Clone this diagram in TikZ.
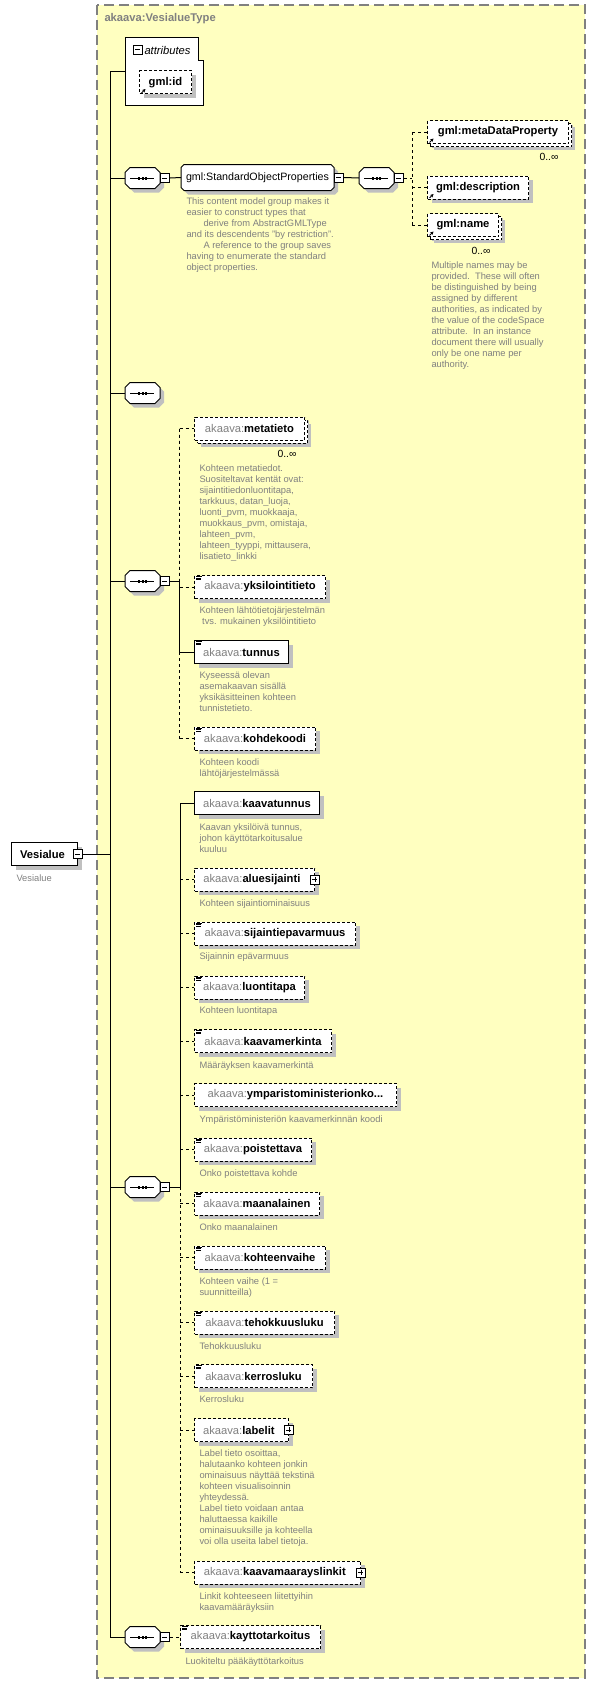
\documentclass[tikz,border=0pt]{standalone}
\usepackage{fontspec}
\setmainfont{Liberation Sans}
\usetikzlibrary{calc,shadows,arrows.meta}

\definecolor{typeYellow}{RGB}{255,255,192}
\definecolor{frameGray}{RGB}{128,128,128}
\definecolor{descGray}{RGB}{128,128,128}
\definecolor{shadowGray}{RGB}{192,192,192}

\newcommand{\ak}[1]{{\color{descGray}akaava:}\textbf{#1}}
\newcommand{\minusmark}[1]{\draw (#1.west) ++(2,0) -- ++(5,0);}
\newcommand{\plusmark}[1]{\draw (#1.west) ++(2,0) -- ++(5,0); \draw (#1.north) ++(0,2) -- ++(0,5);}
% octagon round a named node: corner cut, x offset, y offset
\newcommand{\octo}[4]{($(#1.north west)+(#2+#3,#4)$) -- ($(#1.north east)+(-#2+#3,#4)$) -- ($(#1.north east)+(#3,#2+#4)$) -- ($(#1.south east)+(#3,-#2+#4)$) -- ($(#1.south east)+(-#2+#3,#4)$) -- ($(#1.south west)+(#2+#3,#4)$) -- ($(#1.south west)+(#3,-#2+#4)$) -- ($(#1.north west)+(#3,#2+#4)$) -- cycle}
\newcommand{\seqshape}[1]{\fill [shadowGray] \octo{#1}{5}{4}{4};
  \draw [fill=white] \octo{#1}{5}{0}{0};
  \draw (#1.west) ++(5,0) -- ++(24,0);
  \foreach \d in {-3.5,0,3.5} \fill (#1.center) ++(\d,0) ++(-1,-1.5) rectangle ++(2,3);}
\newcommand{\simplemark}[1]{\draw [line width=0.6pt] (#1.north west) ++(2,1.5) -- ++(6,0) ++(-6,1.6) -- ++(5,0) ++(-5,1.6) -- ++(5,0);}
\newcommand{\refmark}[1]{\draw [-{Stealth[length=2.5pt,width=2.5pt]},line width=0.6pt] (#1.south west) ++(2.5,-1.5) -- ++(4,-4);}

\tikzset{
  lbl/.style={font=\fontsize{8.4}{10}\selectfont},
  desc/.style={anchor=north west,inner sep=0pt,align=left,text=descGray,font=\fontsize{7}{8.25}\selectfont},
  mult/.style={anchor=center,inner sep=0pt,font=\fontsize{7.8}{9}\selectfont},
  boxw/.style={minimum width=#1*0.75pt},
  boxshadow/.style={drop shadow={shadow xshift=3pt,shadow yshift=-3pt,opacity=1,fill=shadowGray}},
  elem/.style={draw,fill=white,boxshadow,lbl,minimum height=17.25pt,inner xsep=4pt,inner ysep=0pt,anchor=west},
  optelem/.style={elem,dash pattern=on 2.25pt off 1.5pt},
  multi/.style={drop shadow={shadow xshift=5pt,shadow yshift=-5pt,opacity=1,fill=shadowGray},
    copy shadow={shadow xshift=2.25pt,shadow yshift=-2.25pt,draw=black,fill=white}},
  seqbub/.style={rectangle,minimum width=25.5pt,minimum height=15pt,inner sep=0pt,anchor=west},
  grp/.style={rectangle,minimum width=114pt,minimum height=18.75pt,inner sep=0pt,anchor=west},
  tog/.style={draw,fill=white,minimum size=6.75pt,inner sep=0pt,anchor=west},
  optline/.style={dash pattern=on 2.25pt off 2.25pt}
}

\begin{document}
\begin{tikzpicture}[x=0.75pt,y=0.75pt,yscale=-1,xscale=1,line width=0.75pt]
\useasboundingbox (0,0) rectangle (596,1684);

%Shape: Rectangle [type frame]
\draw [color=frameGray,fill=typeYellow,line width=1pt,dash pattern=on 7.5pt off 3.75pt] (97,5) rectangle (585,1678);
% Text Node
\node [lbl,anchor=west,inner sep=0pt,text=descGray] (typename) at (104,19) {\textbf{akaava:VesialueType}};

%Shape: attributes
\draw [fill=white] (125,38) -- (198,38) -- (198,61) -- (203,61) -- (203,105) -- (125,105) -- cycle;
\coordinate (attr) at (125,72);
\node [tog] (attrm) at (133,50) {};
\minusmark{attrm}
\node [anchor=west,inner sep=0pt,font=\fontsize{8.4}{10}\selectfont\itshape] (attrtitle) at (144,50) {attributes};
\node [optelem,boxw=52] (gmlid) at (139,82.5) {\textbf{gml:id}};
\refmark{gmlid}

%Shape: root element
\node [elem,boxw=66] (vesialue) at (11,854) {\textbf{Vesialue}\hspace*{3pt}};
\node [tog,anchor=center] (vesialuem) at (vesialue.east) {};
\minusmark{vesialuem}
% Text Node
\node [desc] at (16,874.5) {Vesialue};

%Straight Lines: trunk
\coordinate (trunk) at (110,854);
\draw (vesialuem.east) -- (vesialuem.east -| trunk);
\draw (attr -| trunk) -- (attr);

%Shape: sequence 1
\node [seqbub] (seqa) at (125,178) {};
\seqshape{seqa}
\node [tog] (seqam) at (seqa.east) {};
\minusmark{seqam}
\draw (seqa.west -| trunk) -- (seqa.west);
\node [grp] (sop) at (181,177.5) {};
\fill [shadowGray] \octo{sop}{3}{4}{4};
\draw [fill=white] \octo{sop}{3}{0}{0};
\node [inner sep=0pt,font=\fontsize{8}{10}\selectfont] (soptext) at (sop.center) {gml:StandardObjectProperties};
\draw (seqam.east) -- (sop.west);
\node [tog] (sopm) at (sop.east) {};
\minusmark{sopm}
\node [seqbub] (gseq) at (359,178) {};
\seqshape{gseq}
\draw (sopm.east) -- (gseq.west);
\node [tog] (gseqm) at (gseq.east) {};
\minusmark{gseqm}
\coordinate (gbar) at (412,178);
\draw [optline] (gseqm.east) -- (gbar);
\node [optelem,multi,boxw=141] (mdprop) at (427,132) {\textbf{gml:metaDataProperty}};
\node [optelem,boxw=101] (gdesc) at (427,187.5) {\textbf{gml:description}};
\node [optelem,multi,boxw=71] (gname) at (427,225) {\textbf{gml:name}};
\refmark{mdprop}
\refmark{gdesc}
\refmark{gname}
\draw [optline] (mdprop.west -| gbar) -- (gname.west -| gbar);
\foreach \n in {mdprop,gdesc,gname} \draw [optline] (\n.west -| gbar) -- (\n.west);
% Text Node
\node [mult] at (549,157) {0..∞};
\node [mult] at (481,251) {0..∞};
% Text Node
\node [desc] at (186,197.5) {This content model group makes it\\easier to construct types that\\\hspace*{12.75pt}derive from AbstractGMLType\\and its descendents "by restriction".\\\hspace*{12.75pt}A reference to the group saves\\having to enumerate the standard\\object properties.};
\node [desc] at (431,261.5) {Multiple names may be\\provided.\ \ These will often\\be distinguished by being\\assigned by different\\authorities, as indicated by\\the value of the codeSpace\\attribute.\ \ In an instance\\document there will usually\\only be one name per\\authority.};

%Shape: sequence 2
\node [seqbub] (seqb) at (125,393) {};
\seqshape{seqb}
\draw (seqb.west -| trunk) -- (seqb.west);

%Shape: sequence 3
\node [seqbub] (seqc) at (125,581) {};
\seqshape{seqc}
\node [tog] (seqcm) at (seqc.east) {};
\minusmark{seqcm}
\draw (seqc.west -| trunk) -- (seqc.west);
\coordinate (cbar) at (179.5,581);
\draw (seqcm.east) -- (cbar);
\node [optelem,multi,boxw=110] (metatieto) at (194,428.5) {\ak{metatieto}};
\node [optelem,boxw=131] (yksilointitieto) at (194,587) {\ak{yksilointitieto}};
\node [elem,boxw=94] (tunnus) at (194,652) {\ak{tunnus}};
\node [optelem,boxw=121] (kohdekoodi) at (194,738.5) {\ak{kohdekoodi}};
\foreach \n in {yksilointitieto,tunnus,kohdekoodi} \simplemark{\n}
\draw [optline] (metatieto.west -| cbar) -- (cbar);
\draw (cbar) -- (tunnus.west -| cbar);
\draw [optline] (tunnus.west -| cbar) -- (kohdekoodi.west -| cbar);
\foreach \n in {metatieto,yksilointitieto,kohdekoodi} \draw [optline] (\n.west -| cbar) -- (\n.west);
\draw (tunnus.west -| cbar) -- (tunnus.west);
% Text Node
\node [mult] at (287,454) {0..∞};
\node [desc] at (199,464.5) {Kohteen metatiedot.\\Suositeltavat kentät ovat:\\sijaintitiedonluontitapa,\\tarkkuus, datan\_luoja,\\luonti\_pvm, muokkaaja,\\muokkaus\_pvm, omistaja,\\lahteen\_pvm,\\lahteen\_tyyppi, mittausera,\\lisatieto\_linkki};
\node [desc] at (199,606.5) {Kohteen lähtötietojärjestelmän\\\hspace*{2pt}tvs. mukainen yksilöintitieto};
\node [desc] at (199,671.5) {Kyseessä olevan\\asemakaavan sisällä\\yksikäsitteinen kohteen\\tunnistetieto.};
\node [desc] at (199,758.5) {Kohteen koodi\\lähtöjärjestelmässä};

%Shape: sequence 4
\node [seqbub] (seqd) at (125,1187) {};
\seqshape{seqd}
\node [tog] (seqdm) at (seqd.east) {};
\minusmark{seqdm}
\draw (seqd.west -| trunk) -- (seqd.west);
\coordinate (dbar) at (180,1187);
\draw (seqdm.east) -- (dbar);
\node [elem,boxw=125] (kaavatunnus) at (194,803) {\ak{kaavatunnus}};
\node [optelem,boxw=120] (aluesijainti) at (194,879.5) {\ak{aluesijainti}\hspace*{4pt}};
\node [optelem,boxw=161] (sijaintiepavarmuus) at (194,933.5) {\ak{sijaintiepavarmuus}};
\node [optelem,boxw=110] (luontitapa) at (194,987.5) {\ak{luontitapa}};
\node [optelem,boxw=137] (kaavamerkinta) at (194,1041) {\ak{kaavamerkinta}};
\node [optelem,boxw=202] (ymparisto) at (194,1095) {\ak{ymparistoministerionko...}};
\node [optelem,boxw=117] (poistettava) at (194,1149.5) {\ak{poistettava}};
\node [optelem,boxw=125] (maanalainen) at (194,1203.5) {\ak{maanalainen}};
\node [optelem,boxw=131] (kohteenvaihe) at (194,1257.5) {\ak{kohteenvaihe}};
\node [optelem,boxw=140] (tehokkuusluku) at (194,1322.5) {\ak{tehokkuusluku}};
\node [optelem,boxw=118] (kerrosluku) at (194,1376) {\ak{kerrosluku}};
\node [optelem,boxw=94] (labelit) at (194,1430) {\ak{labelit}\hspace*{4pt}};
\node [optelem,boxw=166] (linkit) at (194,1572.5) {\ak{kaavamaarayslinkit}\hspace*{4pt}};
\foreach \n in {sijaintiepavarmuus,luontitapa,kaavamerkinta,poistettava,maanalainen,kohteenvaihe,tehokkuusluku,kerrosluku} \simplemark{\n}
\foreach \n in {aluesijainti,labelit,linkit} {
  \node [tog,anchor=center] (\n p) at (\n.east) {};
  \plusmark{\n p}
}
\draw (kaavatunnus.west -| dbar) -- (dbar);
\draw [optline] (dbar) -- (linkit.west -| dbar);
\draw (kaavatunnus.west -| dbar) -- (kaavatunnus.west);
\foreach \n in {aluesijainti,sijaintiepavarmuus,luontitapa,kaavamerkinta,ymparisto,poistettava,maanalainen,kohteenvaihe,tehokkuusluku,kerrosluku,labelit,linkit} \draw [optline] (\n.west -| dbar) -- (\n.west);
% Text Node
\node [desc] at (199,823.5) {Kaavan yksilöivä tunnus,\\johon käyttötarkoitusalue\\kuuluu};
\node [desc] at (199,899.5) {Kohteen sijaintiominaisuus};
\node [desc] at (199,952.5) {Sijainnin epävarmuus};
\node [desc] at (199,1006.5) {Kohteen luontitapa};
\node [desc] at (199,1061.5) {Määräyksen kaavamerkintä};
\node [desc] at (199,1115.5) {Ympäristöministeriön kaavamerkinnän koodi};
\node [desc] at (199,1169.5) {Onko poistettava kohde};
\node [desc] at (199,1223.5) {Onko maanalainen};
\node [desc] at (199,1277.5) {Kohteen vaihe (1 =\\suunnitteilla)};
\node [desc] at (199,1342.5) {Tehokkuusluku};
\node [desc] at (199,1395.5) {Kerrosluku};
\node [desc] at (199,1449.5) {Label tieto osoittaa,\\halutaanko kohteen jonkin\\ominaisuus näyttää tekstinä\\kohteen visualisoinnin\\yhteydessä.\\Label tieto voidaan antaa\\haluttaessa kaikille\\ominaisuuksille ja kohteella\\voi olla useita label tietoja.};
\node [desc] at (199,1592.5) {Linkit kohteeseen liitettyihin\\kaavamääräyksiin};

%Shape: sequence 5
\node [seqbub] (seqe) at (125,1637) {};
\seqshape{seqe}
\node [tog] (seqem) at (seqe.east) {};
\minusmark{seqem}
\draw (seqe.west -| trunk) -- (seqe.west);
\node [optelem,boxw=140] (kayttotarkoitus) at (180,1637) {\ak{kayttotarkoitus}};
\simplemark{kayttotarkoitus}
\draw [optline] (seqem.east) -- (kayttotarkoitus.west);
% Text Node
\node [desc] at (185,1657.5) {Luokiteltu pääkäyttötarkoitus};

%Straight Lines: main trunk
\draw (attr -| trunk) -- (seqe.west -| trunk);

\end{tikzpicture}
\end{document}
